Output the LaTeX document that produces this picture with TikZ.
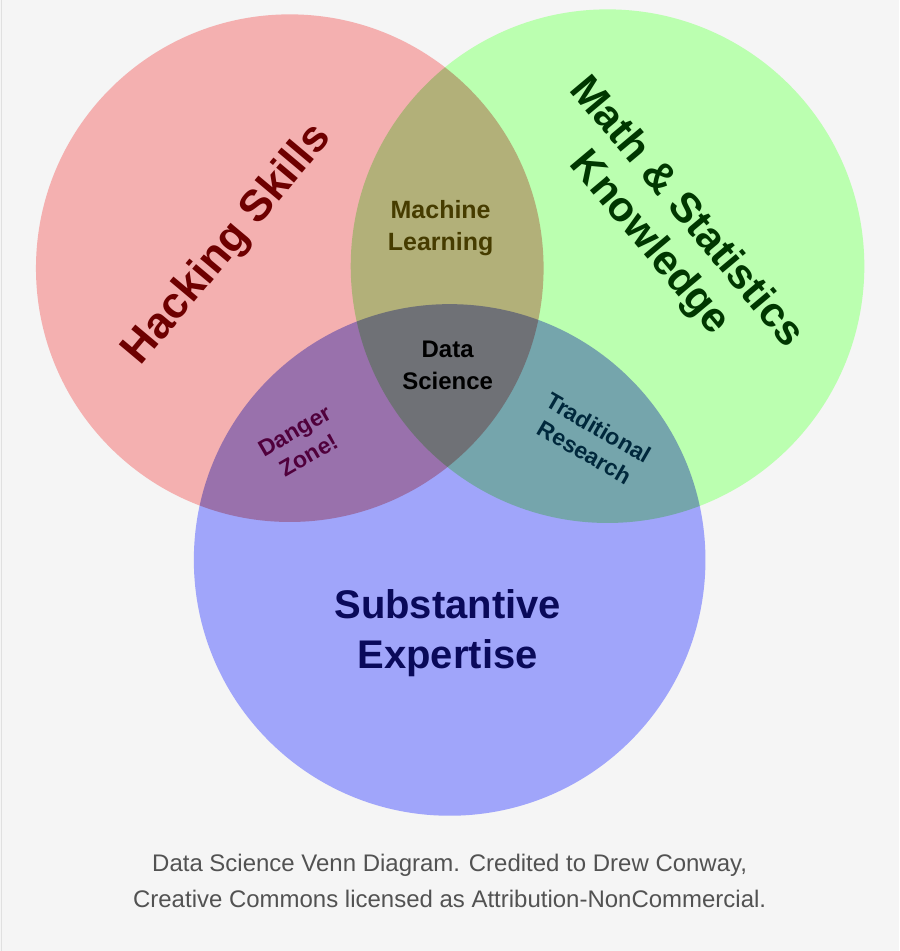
\documentclass[tikz,border=0pt]{standalone}
\usepackage{fontspec}
\setmainfont{Liberation Sans}
\usetikzlibrary{positioning}
\definecolor{bgcol}{RGB}{245,245,245}
\definecolor{hackcol}{RGB}{244,176,176}
\definecolor{mathcol}{RGB}{187,255,176}
\definecolor{subcol}{RGB}{160,165,250}
\tikzset{every picture/.style={line width=0.75pt},
  lbl/.style={font=\bfseries, align=center, inner sep=0pt},
  captxt/.style={text=black!68, font=\fontsize{24}{32}\selectfont}}

\begin{document}
\begin{tikzpicture}[x=1pt,y=1pt,yscale=-1,xscale=1]
%Background
\fill[bgcol] (0,0) rectangle (900,951);
\draw[black!12] (1,0) -- (1,951);

%Circles
\begin{scope}[blend group=multiply]
\fill[hackcol] (290,268) circle (254);
\fill[mathcol] (608,266) circle (257);
\fill[subcol] (450,560) circle (256);
\end{scope}

% Text Nodes
\node[lbl, rotate=50, text={rgb,255:red,110;green,0;blue,0}, font=\bfseries\fontsize{44}{50}\selectfont] (hack) at (228,245) {Hacking Skills};
\node[lbl, rotate=-50, text={rgb,255:red,0;green,55;blue,0}, font=\bfseries\fontsize{42}{48}\selectfont] (math) at (668,228) {Math \& Statistics\\Knowledge};
\node[lbl, text={rgb,255:red,70;green,60;blue,0}, font=\bfseries\fontsize{25}{32}\selectfont] (ml) at (441,228) {Machine\\Learning};
\node[lbl, text=black, font=\bfseries\fontsize{24}{32}\selectfont] (ds) at (448,365) {Data\\Science};
\node[lbl, rotate=30, text={rgb,255:red,80;green,0;blue,60}, font=\bfseries\fontsize{23}{28}\selectfont] (dz) at (302,443) {Danger\\Zone!};
\node[lbl, rotate=-30, text={rgb,255:red,0;green,40;blue,60}, font=\bfseries\fontsize{23}{28}\selectfont] (tr) at (592,440) {Traditional\\Research};
\node[lbl, text={rgb,255:red,10;green,10;blue,90}, font=\bfseries\fontsize{40}{50}\selectfont] (sub) at (448,633) {Substantive\\Expertise};

% Caption
\node[captxt] (cap1) at (450,866) {Data Science Venn Diagram. Credited to Drew Conway,};
\node[captxt, below=6pt of cap1.south, anchor=north] (cap2) {Creative Commons licensed as Attribution-NonCommercial.};
\end{tikzpicture}
\end{document}
